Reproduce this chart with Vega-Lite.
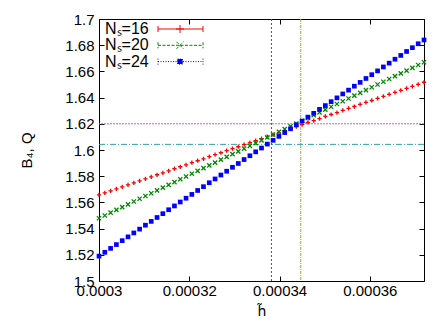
{
  "$schema": "https://vega.github.io/schema/vega-lite/v6.json",
  "width": 325,
  "height": 262,
  "autosize": {"type": "none"},
  "padding": {"left": 99, "top": 19, "right": 24, "bottom": 51},
  "background": "white",
  "config": {
    "view": {"stroke": "black", "strokeWidth": 1},
    "axis": {
      "labelFont": "Liberation Sans", "labelFontSize": 15, "labelColor": "black",
      "titleFont": "Liberation Sans", "titleFontSize": 15, "titleFontWeight": "normal", "titleColor": "black",
      "tickColor": "black", "tickSize": -5, "domain": false, "grid": false, "labelFlush": false, "labelOverlap": false
    }
  },
  "datasets": {
    "pts": [
      {"s":"Nₛ=16","h":0.0003,"B":1.5657},{"s":"Nₛ=16","h":0.000301286,"B":1.5672},{"s":"Nₛ=16","h":0.000302571,"B":1.5688},{"s":"Nₛ=16","h":0.000303857,"B":1.5703},{"s":"Nₛ=16","h":0.000305143,"B":1.5718},{"s":"Nₛ=16","h":0.000306429,"B":1.5734},{"s":"Nₛ=16","h":0.000307714,"B":1.5749},{"s":"Nₛ=16","h":0.000309,"B":1.5765},{"s":"Nₛ=16","h":0.000310286,"B":1.5780},{"s":"Nₛ=16","h":0.000311571,"B":1.5795},
      {"s":"Nₛ=16","h":0.000312857,"B":1.5811},{"s":"Nₛ=16","h":0.000314143,"B":1.5826},{"s":"Nₛ=16","h":0.000315429,"B":1.5841},{"s":"Nₛ=16","h":0.000316714,"B":1.5857},{"s":"Nₛ=16","h":0.000318,"B":1.5872},{"s":"Nₛ=16","h":0.000319286,"B":1.5887},{"s":"Nₛ=16","h":0.000320571,"B":1.5903},{"s":"Nₛ=16","h":0.000321857,"B":1.5918},{"s":"Nₛ=16","h":0.000323143,"B":1.5933},{"s":"Nₛ=16","h":0.000324429,"B":1.5949},
      {"s":"Nₛ=16","h":0.000325714,"B":1.5964},{"s":"Nₛ=16","h":0.000327,"B":1.5979},{"s":"Nₛ=16","h":0.000328286,"B":1.5995},{"s":"Nₛ=16","h":0.000329571,"B":1.6010},{"s":"Nₛ=16","h":0.000330857,"B":1.6025},{"s":"Nₛ=16","h":0.000332143,"B":1.6041},{"s":"Nₛ=16","h":0.000333429,"B":1.6056},{"s":"Nₛ=16","h":0.000334714,"B":1.6071},{"s":"Nₛ=16","h":0.000336,"B":1.6087},{"s":"Nₛ=16","h":0.000337286,"B":1.6102},
      {"s":"Nₛ=16","h":0.000338571,"B":1.6118},{"s":"Nₛ=16","h":0.000339857,"B":1.6133},{"s":"Nₛ=16","h":0.000341143,"B":1.6148},{"s":"Nₛ=16","h":0.000342429,"B":1.6164},{"s":"Nₛ=16","h":0.000343714,"B":1.6179},{"s":"Nₛ=16","h":0.000345,"B":1.6194},{"s":"Nₛ=16","h":0.000346286,"B":1.6210},{"s":"Nₛ=16","h":0.000347571,"B":1.6225},{"s":"Nₛ=16","h":0.000348857,"B":1.6240},{"s":"Nₛ=16","h":0.000350143,"B":1.6256},
      {"s":"Nₛ=16","h":0.000351429,"B":1.6271},{"s":"Nₛ=16","h":0.000352714,"B":1.6286},{"s":"Nₛ=16","h":0.000354,"B":1.6302},{"s":"Nₛ=16","h":0.000355286,"B":1.6317},{"s":"Nₛ=16","h":0.000356571,"B":1.6332},{"s":"Nₛ=16","h":0.000357857,"B":1.6348},{"s":"Nₛ=16","h":0.000359143,"B":1.6363},{"s":"Nₛ=16","h":0.000360429,"B":1.6378},{"s":"Nₛ=16","h":0.000361714,"B":1.6394},{"s":"Nₛ=16","h":0.000363,"B":1.6409},
      {"s":"Nₛ=16","h":0.000364286,"B":1.6425},{"s":"Nₛ=16","h":0.000365571,"B":1.6440},{"s":"Nₛ=16","h":0.000366857,"B":1.6455},{"s":"Nₛ=16","h":0.000368143,"B":1.6471},{"s":"Nₛ=16","h":0.000369429,"B":1.6486},{"s":"Nₛ=16","h":0.000370714,"B":1.6501},{"s":"Nₛ=16","h":0.000372,"B":1.6517},

      {"s":"Nₛ=20","h":0.0003,"B":1.5479},{"s":"Nₛ=20","h":0.000301286,"B":1.5500},{"s":"Nₛ=20","h":0.000302571,"B":1.5522},{"s":"Nₛ=20","h":0.000303857,"B":1.5543},{"s":"Nₛ=20","h":0.000305143,"B":1.5564},{"s":"Nₛ=20","h":0.000306429,"B":1.5585},{"s":"Nₛ=20","h":0.000307714,"B":1.5607},{"s":"Nₛ=20","h":0.000309,"B":1.5628},{"s":"Nₛ=20","h":0.000310286,"B":1.5649},{"s":"Nₛ=20","h":0.000311571,"B":1.5670},
      {"s":"Nₛ=20","h":0.000312857,"B":1.5692},{"s":"Nₛ=20","h":0.000314143,"B":1.5713},{"s":"Nₛ=20","h":0.000315429,"B":1.5734},{"s":"Nₛ=20","h":0.000316714,"B":1.5755},{"s":"Nₛ=20","h":0.000318,"B":1.5777},{"s":"Nₛ=20","h":0.000319286,"B":1.5798},{"s":"Nₛ=20","h":0.000320571,"B":1.5819},{"s":"Nₛ=20","h":0.000321857,"B":1.5841},{"s":"Nₛ=20","h":0.000323143,"B":1.5862},{"s":"Nₛ=20","h":0.000324429,"B":1.5883},
      {"s":"Nₛ=20","h":0.000325714,"B":1.5904},{"s":"Nₛ=20","h":0.000327,"B":1.5926},{"s":"Nₛ=20","h":0.000328286,"B":1.5947},{"s":"Nₛ=20","h":0.000329571,"B":1.5968},{"s":"Nₛ=20","h":0.000330857,"B":1.5989},{"s":"Nₛ=20","h":0.000332143,"B":1.6011},{"s":"Nₛ=20","h":0.000333429,"B":1.6032},{"s":"Nₛ=20","h":0.000334714,"B":1.6053},{"s":"Nₛ=20","h":0.000336,"B":1.6074},{"s":"Nₛ=20","h":0.000337286,"B":1.6096},
      {"s":"Nₛ=20","h":0.000338571,"B":1.6117},{"s":"Nₛ=20","h":0.000339857,"B":1.6138},{"s":"Nₛ=20","h":0.000341143,"B":1.6160},{"s":"Nₛ=20","h":0.000342429,"B":1.6181},{"s":"Nₛ=20","h":0.000343714,"B":1.6202},{"s":"Nₛ=20","h":0.000345,"B":1.6223},{"s":"Nₛ=20","h":0.000346286,"B":1.6245},{"s":"Nₛ=20","h":0.000347571,"B":1.6266},{"s":"Nₛ=20","h":0.000348857,"B":1.6287},{"s":"Nₛ=20","h":0.000350143,"B":1.6308},
      {"s":"Nₛ=20","h":0.000351429,"B":1.6330},{"s":"Nₛ=20","h":0.000352714,"B":1.6351},{"s":"Nₛ=20","h":0.000354,"B":1.6372},{"s":"Nₛ=20","h":0.000355286,"B":1.6393},{"s":"Nₛ=20","h":0.000356571,"B":1.6415},{"s":"Nₛ=20","h":0.000357857,"B":1.6436},{"s":"Nₛ=20","h":0.000359143,"B":1.6457},{"s":"Nₛ=20","h":0.000360429,"B":1.6479},{"s":"Nₛ=20","h":0.000361714,"B":1.6500},{"s":"Nₛ=20","h":0.000363,"B":1.6521},
      {"s":"Nₛ=20","h":0.000364286,"B":1.6542},{"s":"Nₛ=20","h":0.000365571,"B":1.6564},{"s":"Nₛ=20","h":0.000366857,"B":1.6585},{"s":"Nₛ=20","h":0.000368143,"B":1.6606},{"s":"Nₛ=20","h":0.000369429,"B":1.6627},{"s":"Nₛ=20","h":0.000370714,"B":1.6649},{"s":"Nₛ=20","h":0.000372,"B":1.6670},

      {"s":"Nₛ=24","h":0.0003,"B":1.5190},{"s":"Nₛ=24","h":0.000301286,"B":1.5219},{"s":"Nₛ=24","h":0.000302571,"B":1.5249},{"s":"Nₛ=24","h":0.000303857,"B":1.5278},{"s":"Nₛ=24","h":0.000305143,"B":1.5308},{"s":"Nₛ=24","h":0.000306429,"B":1.5337},{"s":"Nₛ=24","h":0.000307714,"B":1.5367},{"s":"Nₛ=24","h":0.000309,"B":1.5396},{"s":"Nₛ=24","h":0.000310286,"B":1.5426},{"s":"Nₛ=24","h":0.000311571,"B":1.5455},
      {"s":"Nₛ=24","h":0.000312857,"B":1.5485},{"s":"Nₛ=24","h":0.000314143,"B":1.5514},{"s":"Nₛ=24","h":0.000315429,"B":1.5544},{"s":"Nₛ=24","h":0.000316714,"B":1.5573},{"s":"Nₛ=24","h":0.000318,"B":1.5603},{"s":"Nₛ=24","h":0.000319286,"B":1.5632},{"s":"Nₛ=24","h":0.000320571,"B":1.5661},{"s":"Nₛ=24","h":0.000321857,"B":1.5691},{"s":"Nₛ=24","h":0.000323143,"B":1.5720},{"s":"Nₛ=24","h":0.000324429,"B":1.5750},
      {"s":"Nₛ=24","h":0.000325714,"B":1.5779},{"s":"Nₛ=24","h":0.000327,"B":1.5809},{"s":"Nₛ=24","h":0.000328286,"B":1.5838},{"s":"Nₛ=24","h":0.000329571,"B":1.5868},{"s":"Nₛ=24","h":0.000330857,"B":1.5897},{"s":"Nₛ=24","h":0.000332143,"B":1.5927},{"s":"Nₛ=24","h":0.000333429,"B":1.5956},{"s":"Nₛ=24","h":0.000334714,"B":1.5986},{"s":"Nₛ=24","h":0.000336,"B":1.6015},{"s":"Nₛ=24","h":0.000337286,"B":1.6045},
      {"s":"Nₛ=24","h":0.000338571,"B":1.6074},{"s":"Nₛ=24","h":0.000339857,"B":1.6104},{"s":"Nₛ=24","h":0.000341143,"B":1.6133},{"s":"Nₛ=24","h":0.000342429,"B":1.6162},{"s":"Nₛ=24","h":0.000343714,"B":1.6192},{"s":"Nₛ=24","h":0.000345,"B":1.6221},{"s":"Nₛ=24","h":0.000346286,"B":1.6251},{"s":"Nₛ=24","h":0.000347571,"B":1.6280},{"s":"Nₛ=24","h":0.000348857,"B":1.6310},{"s":"Nₛ=24","h":0.000350143,"B":1.6339},
      {"s":"Nₛ=24","h":0.000351429,"B":1.6369},{"s":"Nₛ=24","h":0.000352714,"B":1.6398},{"s":"Nₛ=24","h":0.000354,"B":1.6428},{"s":"Nₛ=24","h":0.000355286,"B":1.6457},{"s":"Nₛ=24","h":0.000356571,"B":1.6487},{"s":"Nₛ=24","h":0.000357857,"B":1.6516},{"s":"Nₛ=24","h":0.000359143,"B":1.6546},{"s":"Nₛ=24","h":0.000360429,"B":1.6575},{"s":"Nₛ=24","h":0.000361714,"B":1.6604},{"s":"Nₛ=24","h":0.000363,"B":1.6634},
      {"s":"Nₛ=24","h":0.000364286,"B":1.6663},{"s":"Nₛ=24","h":0.000365571,"B":1.6693},{"s":"Nₛ=24","h":0.000366857,"B":1.6722},{"s":"Nₛ=24","h":0.000368143,"B":1.6752},{"s":"Nₛ=24","h":0.000369429,"B":1.6781},{"s":"Nₛ=24","h":0.000370714,"B":1.6811},{"s":"Nₛ=24","h":0.000372,"B":1.6840}
    ]
  },
  "resolve": {"axis": {"x": "independent", "y": "independent"}},
  "layer": [
    {
      "data": {"values": [{"h": 0.0003382}]},
      "mark": {"type": "rule", "color": "#505050", "strokeWidth": 1, "strokeDash": [2, 2]},
      "encoding": {
        "x": {"field": "h", "type": "quantitative", "scale": {"domain": [0.0003, 0.000372], "nice": false, "zero": false},
              "axis": {"orient": "top", "labels": false, "title": null, "values": [0.0003, 0.00032, 0.00034, 0.00036]}}
      }
    },
    {
      "data": {"values": [{"h": 0.0003447}]},
      "mark": {"type": "rule", "color": "#a8a838", "strokeWidth": 1, "strokeDash": [3, 1, 1, 1]},
      "encoding": {
        "x": {"field": "h", "type": "quantitative", "scale": {"domain": [0.0003, 0.000372], "nice": false, "zero": false}, "axis": null}
      }
    },
    {
      "data": {"values": [{"B": 1.62}]},
      "mark": {"type": "rule", "color": "#b868c0", "strokeWidth": 1, "strokeDash": [2, 1]},
      "encoding": {
        "y": {"field": "B", "type": "quantitative", "scale": {"domain": [1.5, 1.7], "nice": false, "zero": false},
              "axis": {"orient": "right", "labels": false, "title": null, "values": [1.5, 1.52, 1.54, 1.56, 1.58, 1.6, 1.62, 1.64, 1.66, 1.68, 1.7]}}
      }
    },
    {
      "data": {"values": [{"B": 1.6043}]},
      "mark": {"type": "rule", "color": "#30a0a8", "strokeWidth": 1, "strokeDash": [6, 2, 1, 2]},
      "encoding": {
        "y": {"field": "B", "type": "quantitative", "scale": {"domain": [1.5, 1.7], "nice": false, "zero": false}, "axis": null}
      }
    },
    {
      "data": {"name": "pts"},
      "transform": [{"filter": "datum.s === 'Nₛ=16'"}],
      "mark": {"type": "point", "filled": false, "size": 18, "strokeWidth": 1.3, "opacity": 1, "shape": "M-1,0H1M0,-1V1"},
      "encoding": {
        "x": {"field": "h", "type": "quantitative", "scale": {"domain": [0.0003, 0.000372], "nice": false, "zero": false},
              "axis": {"orient": "bottom", "title": "h̃", "titleFont": "DejaVu Sans", "titleFontSize": 14, "values": [0.0003, 0.00032, 0.00034, 0.00036], "format": "~g", "labelPadding": 7, "titlePadding": 6}},
        "y": {"field": "B", "type": "quantitative", "scale": {"domain": [1.5, 1.7], "nice": false, "zero": false},
              "axis": {"orient": "left", "title": "B₄, Q", "values": [1.5, 1.52, 1.54, 1.56, 1.58, 1.6, 1.62, 1.64, 1.66, 1.68, 1.7], "format": "~g", "labelPadding": 10, "titlePadding": 30}},
        "color": {"field": "s", "type": "nominal", "scale": {"domain": ["Nₛ=16", "Nₛ=20", "Nₛ=24"], "range": ["#ff0000", "#008800", "#0000ff"]}}
      }
    },
    {
      "data": {"name": "pts"},
      "transform": [{"filter": "datum.s === 'Nₛ=20'"}],
      "mark": {"type": "point", "filled": false, "size": 18, "strokeWidth": 1.3, "opacity": 1, "shape": "M-1,-1L1,1M-1,1L1,-1"},
      "encoding": {
        "x": {"field": "h", "type": "quantitative", "scale": {"domain": [0.0003, 0.000372], "nice": false, "zero": false}, "axis": null},
        "y": {"field": "B", "type": "quantitative", "scale": {"domain": [1.5, 1.7], "nice": false, "zero": false}, "axis": null},
        "color": {"field": "s", "type": "nominal", "scale": {"domain": ["Nₛ=16", "Nₛ=20", "Nₛ=24"], "range": ["#ff0000", "#008800", "#0000ff"]}}
      }
    },
    {
      "data": {"name": "pts"},
      "transform": [{"filter": "datum.s === 'Nₛ=24'"}],
      "mark": {"type": "point", "filled": true, "size": 22, "opacity": 1, "shape": "square"},
      "encoding": {
        "x": {"field": "h", "type": "quantitative", "scale": {"domain": [0.0003, 0.000372], "nice": false, "zero": false}, "axis": null},
        "y": {"field": "B", "type": "quantitative", "scale": {"domain": [1.5, 1.7], "nice": false, "zero": false}, "axis": null},
        "color": {"field": "s", "type": "nominal", "scale": {"domain": ["Nₛ=16", "Nₛ=20", "Nₛ=24"], "range": ["#ff0000", "#008800", "#0000ff"]}}
      }
    },
    {
      "data": {"name": "pts"},
      "transform": [{"filter": "false"}],
      "mark": {"type": "point", "filled": false, "size": 16, "strokeWidth": 1},
      "encoding": {
        "x": {"field": "h", "type": "quantitative", "scale": {"domain": [0.0003, 0.000372], "nice": false, "zero": false}, "axis": null},
        "y": {"field": "B", "type": "quantitative", "scale": {"domain": [1.5, 1.7], "nice": false, "zero": false}, "axis": null},
        "color": {"field": "s", "type": "nominal", "scale": {"domain": ["Nₛ=16", "Nₛ=20", "Nₛ=24"], "range": ["#ff0000", "#008800", "#0000ff"]},
                  "legend": {
                    "orient": "none", "legendX": -10, "legendY": 2, "title": null,
                    "labelFont": "Liberation Sans", "labelFontSize": 16, "labelColor": "black",
                    "symbolSize": 16, "symbolStrokeWidth": 1, "labelOffset": 0, "rowPadding": 0.3,
                    "symbolOpacity": 1, "symbolFillColor": "#0000ff"
                  }},
        "shape": {"field": "s", "type": "nominal",
                  "scale": {"domain": ["Nₛ=16", "Nₛ=20", "Nₛ=24"], "range": [
                    "M30.5,0H53M30.5,-1.5V1.5M53,-1.5V1.5M39.5,0H43.5M41.5,-2V2",
                    "M30.5,0H53M30.5,-1.5V1.5M53,-1.5V1.5M39.75,-1.75L43.25,1.75M39.75,1.75L43.25,-1.75",
                    "M30.5,0H53M30.5,-1.5V1.5M53,-1.5V1.5M40.25,-1.25H42.75V1.25H40.25Z"]},
                  "legend": {"title": null}},
        "strokeDash": {"field": "s", "type": "nominal",
                       "scale": {"domain": ["Nₛ=16", "Nₛ=20", "Nₛ=24"], "range": [[1, 0], [3, 1.5], [1, 1.5]]},
                       "legend": {"title": null}}
      }
    }
  ]
}
